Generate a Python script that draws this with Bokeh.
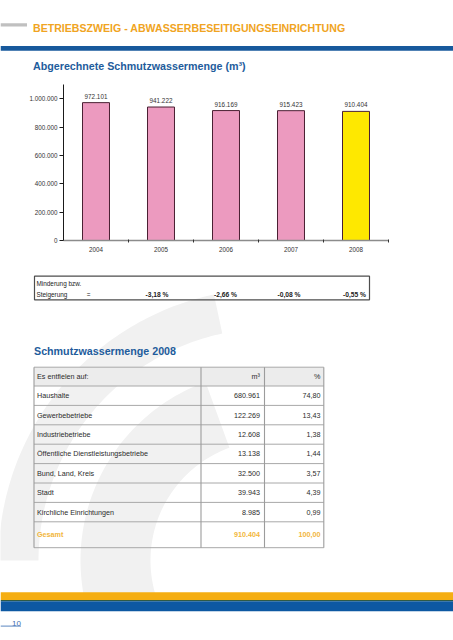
import numpy as np
from bokeh.plotting import figure
from bokeh.models import Range1d, FixedTicker, LinearAxis
from bokeh.core.properties import value
from bokeh.embed import file_html
from bokeh.resources import INLINE

# ---------------- data ----------------
years = ["2004", "2005", "2006", "2007", "2008"]
volumes = [972101, 941222, 916169, 915423, 910404]
bar_colors = ["#ec9abf", "#ec9abf", "#ec9abf", "#ec9abf", "#fee800"]
y_ticks = [0, 200000, 400000, 600000, 800000, 1000000]
y_tick_labels = ["0", "200.000", "400.000", "600.000", "800.000", "1.000.000"]
changes = ["-3,18 %", "-2,66 %", "-0,08 %", "-0,55 %"]

categories = ["Haushalte", "Gewerbebetriebe", "Industriebetriebe",
              "Öffentliche Dienstleistungsbetriebe", "Bund, Land, Kreis",
              "Stadt", "Kirchliche Einrichtungen"]
cat_m3 = [680961, 122269, 12608, 13138, 32500, 39943, 8985]
cat_pct = [74.80, 13.43, 1.38, 1.44, 3.57, 4.39, 0.99]
total_m3 = 910404
total_pct = 100.00

header_text = "BETRIEBSZWEIG - ABWASSERBESEITIGUNGSEINRICHTUNG"
chart_title = "Abgerechnete Schmutzwassermenge (m³)"
table_title = "Schmutzwassermenge 2008"
page_no = "10"


def de_int(v):
    return f"{v:,}".replace(",", ".")


def de_dec(v):
    return f"{v:.2f}".replace(".", ",")


FONT = value("Liberation Sans")
ORANGE = "#f0a422"
BLUE_T = "#1e5c9c"

# page canvas in page pixels (y downwards)
PX0, PX1, PY0, PY1 = 0, 453, 0, 640
p = figure(width=PX1 - PX0, height=PY1 - PY0, x_range=Range1d(PX0, PX1),
           y_range=Range1d(PY1, PY0), output_backend="svg", toolbar_location=None,
           min_border=0, x_axis_type=None, y_axis_type=None)
p.outline_line_color = None
p.background_fill_color = "white"
p.border_fill_color = "white"

# chart area placement on the page
CL, CR, CT, CB = 63, 388, 84, 240
YMAX = 1100000
n_years = len(years)
ux = (CR - CL) / n_years
uy = YMAX / (CB - CT)
p.extra_x_ranges = {"cx": Range1d(-0.5 - (CL - PX0) / ux, n_years - 0.5 + (PX1 - CR) / ux)}
p.extra_y_ranges = {"cy": Range1d(-(PY1 - CB) * uy, YMAX + (CT - PY0) * uy)}

# ---------------- watermark ----------------
def band(cx, cy, r0, r1, a0, a1, ymax, n=80):
    t = np.radians(np.linspace(a0, a1, n))
    xo = cx + r1 * np.cos(t)
    yo = cy + r1 * np.sin(t)
    xi = cx + r0 * np.cos(t[::-1])
    yi = cy + r0 * np.sin(t[::-1])
    return list(np.r_[xo, xi]), list(np.minimum(np.r_[yo, yi], ymax))


bx1, by1 = band(270, 560, 232, 272, 180, 258, 598)
bx2, by2 = band(270, 560, 120, 190, 155, 250, 598)
p.patches(xs=[bx1, bx2], ys=[by1, by2], fill_color="#f1f1f1", line_color=None)

# ---------------- header ----------------
p.quad(left=[0], right=[26.5], top=[22.7], bottom=[26.0], fill_color="#c0c0c0", line_color=None)
p.text(x=[32.5], y=[27.4], text=[header_text], text_font=FONT, text_font_size="10.6px",
       text_font_style="bold", text_color=ORANGE, text_baseline="alphabetic")
p.quad(left=[0], right=[460], top=[45.6], bottom=[50.2], fill_color="#17599c", line_color=None)
p.text(x=[32.5], y=[65.8], text=[chart_title], text_font=FONT, text_font_size="10.7px",
       text_font_style="bold", text_color=BLUE_T, text_baseline="alphabetic")

# ---------------- bar chart ----------------
xs = list(range(n_years))
p.vbar(x=xs, top=volumes, width=0.415, bottom=0, fill_color=bar_colors,
       line_color="#4a2033", line_width=1, x_range_name="cx", y_range_name="cy")
p.text(x=xs, y=volumes, text=[de_int(v) for v in volumes], y_offset=-6.5,
       text_font=FONT, text_font_size="6.3px", text_color="#333333",
       text_align="center", text_baseline="middle", x_range_name="cx", y_range_name="cy")

yax = LinearAxis(x_range_name="cx", y_range_name="cy", fixed_location=-0.5,
                 bounds=(0, YMAX), ticker=FixedTicker(ticks=y_ticks))
yax.major_label_overrides = {t: l for t, l in zip(y_ticks, y_tick_labels)}
yax.axis_line_color = "#1a1a1a"
yax.major_tick_line_color = "#1a1a1a"
yax.major_tick_out = 4
yax.major_tick_in = 0
yax.minor_tick_line_color = None
yax.major_label_standoff = 2
yax.major_label_text_font = "Liberation Sans"
yax.major_label_text_font_size = "6.3px"
yax.major_label_text_color = "#333333"
p.add_layout(yax, "left")

xax = LinearAxis(x_range_name="cx", y_range_name="cy", fixed_location=0,
                 bounds=(-0.5, n_years - 0.5),
                 ticker=FixedTicker(ticks=xs, minor_ticks=[i + 0.5 for i in xs]))
xax.major_label_overrides = {i: y for i, y in zip(xs, years)}
xax.axis_line_color = "#8c8c8c"
xax.axis_line_width = 1.5
xax.major_tick_line_color = None
xax.major_tick_out = 0
xax.major_tick_in = 0
xax.minor_tick_line_color = "#333333"
xax.minor_tick_in = 1
xax.minor_tick_out = 2
xax.major_label_standoff = 4
xax.major_label_text_font = "Liberation Sans"
xax.major_label_text_font_size = "6.3px"
xax.major_label_text_color = "#333333"
p.add_layout(xax, "below")

# ---------------- Minderung / Steigerung box ----------------
p.quad(left=[34], right=[369], top=[275.7], bottom=[299.3], fill_color=None,
       line_color="#4d4d4d", line_width=1.2)
p.text(x=[36, 36, 88], y=[283, 294.4, 294.4], text=["Minderung bzw.", "Steigerung", "="],
       text_font=FONT, text_font_size="6.4px", text_color="#222222",
       text_baseline="alphabetic", text_align=["left", "left", "center"])
chg_x = [168, 236.5, 300, 365.5]
p.text(x=chg_x, y=[294.4] * 4, text=changes, text_font=FONT, text_font_size="6.7px",
       text_font_style="bold", text_color="#222222", text_baseline="alphabetic",
       text_align="right")

p.text(x=[33.5], y=[350.3], text=[table_title], text_font=FONT, text_font_size="10.7px",
       text_font_style="bold", text_color=BLUE_T, text_baseline="alphabetic")

# ---------------- table ----------------
tl, tc1, tc2, tr = 33.5, 200.5, 264, 323.3
head_top, head_bot, row_h = 366.7, 385.5, 19.4
edges = [head_top, head_bot] + [head_bot + row_h * (k + 1) for k in range(len(categories))]
tbl_bot = edges[-1] + 25.9
edges.append(tbl_bot)
p.quad(left=[tl], right=[tr], top=[head_top], bottom=[head_bot], fill_color="#ececec",
       line_color=None)
p.segment(x0=[tl] * len(edges), x1=[tr] * len(edges), y0=edges, y1=edges,
          line_color="#a8a8a8", line_width=1)
p.segment(x0=[tl, tc1, tc2, tr], x1=[tl, tc1, tc2, tr], y0=[head_top] * 4,
          y1=[tbl_bot] * 4, line_color="#9c9c9c", line_width=1.1)

mids = [(edges[i] + edges[i + 1]) / 2 for i in range(len(edges) - 1)]
row_labels = ["Es entfielen auf:"] + categories
row_m3 = ["m³"] + [de_int(v) for v in cat_m3]
row_pct = ["%"] + [de_dec(v) for v in cat_pct]
n = len(row_labels)
p.text(x=[36.5] * n, y=mids[:n], text=row_labels, text_font=FONT, text_font_size="7.2px",
       text_color="#2b2b2b", text_baseline="middle", text_align="left")
p.text(x=[259.5] * n, y=mids[:n], text=row_m3, text_font=FONT, text_font_size="7.2px",
       text_color="#2b2b2b", text_baseline="middle", text_align="right")
p.text(x=[320] * n, y=mids[:n], text=row_pct, text_font=FONT, text_font_size="7.2px",
       text_color="#2b2b2b", text_baseline="middle", text_align="right")
gy = mids[-1]
p.text(x=[36.5, 259.5, 320], y=[gy] * 3, text=["Gesamt", de_int(total_m3), de_dec(total_pct)],
       text_font=FONT, text_font_size="7.2px", text_font_style="bold", text_color="#f2b63c",
       text_baseline="middle", text_align=["left", "right", "right"])

# ---------------- bottom bands ----------------
p.quad(left=[0], right=[460], top=[591.8], bottom=[599.6], fill_color="#f5ae12", line_color=None)
p.quad(left=[0], right=[460], top=[599.6], bottom=[600.8], fill_color="#2f5a45", line_color=None)
p.quad(left=[0], right=[460], top=[600.8], bottom=[610.8], fill_color="#0d58a2", line_color=None)
p.text(x=[11.5], y=[623.3], text=[page_no], text_font=FONT, text_font_size="8px",
       text_color="#3d6eb0", text_baseline="alphabetic")
p.segment(x0=[0], x1=[20.5], y0=[625.6], y1=[625.6], line_color="#5b86c0", line_width=1)

open("out.html", "w").write(file_html(p, INLINE))
